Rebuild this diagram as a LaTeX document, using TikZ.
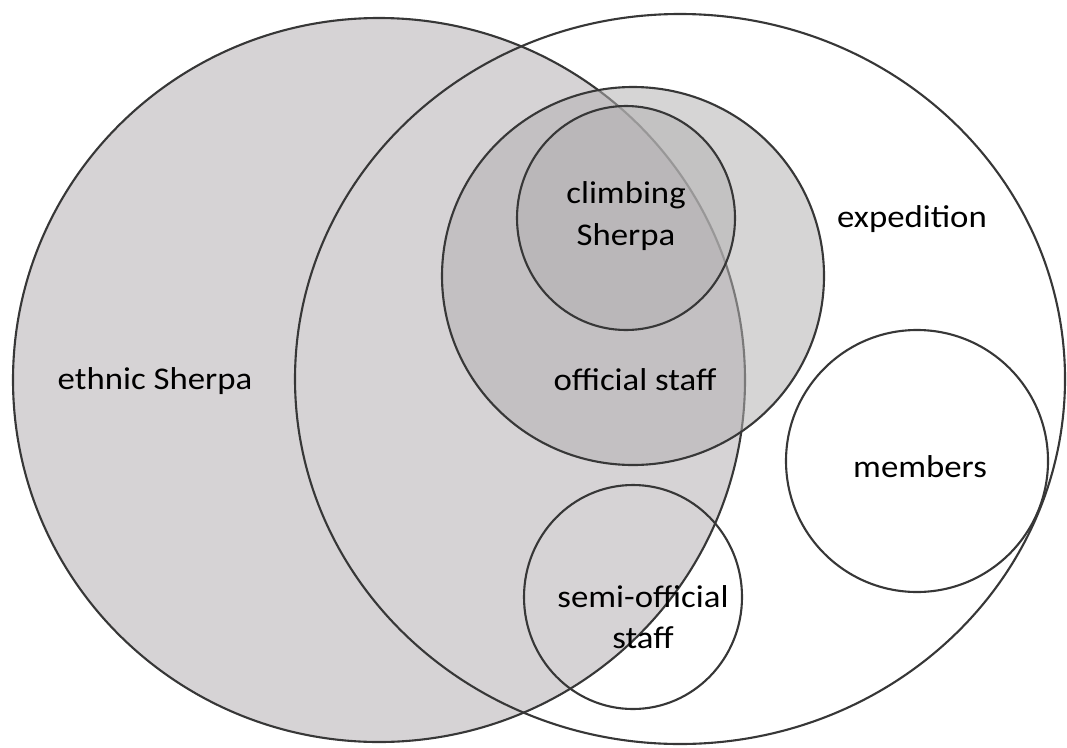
\documentclass[tikz,border=0pt]{standalone}
\usepackage{fontspec}
\setmainfont{Carlito}[FakeStretch=1.1]
\definecolor{ethnicgray}{RGB}{214,211,213}
\definecolor{staffgray}{RGB}{179,177,178}
\definecolor{edgegray}{RGB}{55,55,55}
\tikzset{
  setline/.style={draw=edgegray, line width=1.2pt},
  staffset/.style={fill=staffgray, fill opacity=0.54, draw=edgegray, line width=1.2pt},
  setlabel/.style={font=\fontsize{18}{23.6}\selectfont, align=center, text=black},
}
\begin{document}
\begin{tikzpicture}[x=0.02cm, y=-0.02cm]
    % Picture frame (pixel units)
    \useasboundingbox (0,0) rectangle (1067,747);
    % Ethnic Sherpa
    \fill[ethnicgray] (379,380) ellipse [x radius=366, y radius=362];
    \draw[setline] (379,380) ellipse [x radius=366, y radius=362];
    % Expedition
    \draw[setline] (680,379) ellipse [x radius=385, y radius=365];
    % Official staff and climbing Sherpa (see-through)
    \path[staffset] (633,276) ellipse [x radius=191, y radius=189];
    \path[staffset] (626,218) ellipse [x radius=109, y radius=112];
    % Members and semi-official staff
    \draw[setline] (917,461) circle [radius=131];
    \draw[setline] (633,597) ellipse [x radius=109, y radius=112];
    % Labels
    \node[setlabel] (ethnic) at (155,381) {ethnic Sherpa};
    \node[setlabel] (climbing) at (626,216) {climbing\\Sherpa};
    \node[setlabel] (official) at (635,380) {official staff};
    \node[setlabel] (expedition) at (912,219) {expedition};
    \node[setlabel] (members) at (920,467) {members};
    \node[setlabel] (semi) at (643,617) {semi-official\\staff};
\end{tikzpicture}
\end{document}
